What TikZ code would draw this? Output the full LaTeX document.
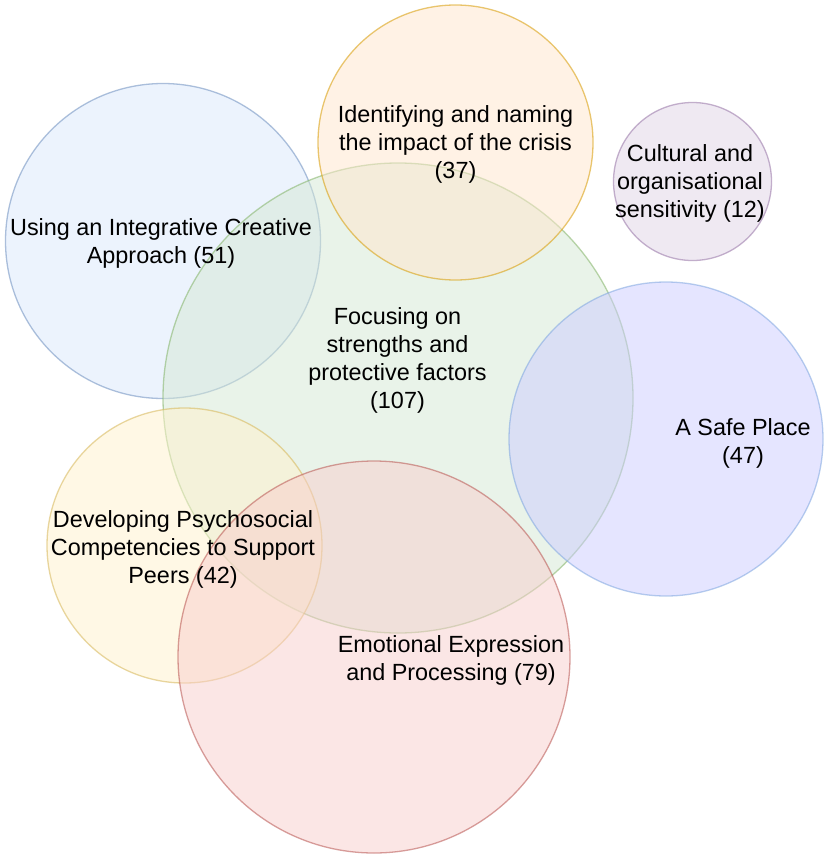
\documentclass[tikz,border=0pt]{standalone}
\usepackage{fontspec}
\setmainfont{Liberation Sans}
\definecolor{bluefill}{HTML}{DAE8FC}\definecolor{bluedraw}{HTML}{6C8EBF}
\definecolor{greenfill}{HTML}{D5E8D4}\definecolor{greendraw}{HTML}{82B366}
\definecolor{orangefill}{HTML}{FFE6CC}\definecolor{orangedraw}{HTML}{D79B00}
\definecolor{purplefill}{HTML}{E1D5E7}\definecolor{purpledraw}{HTML}{9673A6}
\definecolor{lavfill}{HTML}{CCCCFF}\definecolor{lavdraw}{HTML}{7EA6E0}
\definecolor{yellowfill}{HTML}{FFF2CC}\definecolor{yellowdraw}{HTML}{D6B656}
\definecolor{redfill}{HTML}{F8CECC}\definecolor{reddraw}{HTML}{B85450}
\tikzset{
  venn/.style={circle, inner sep=0pt, line width=1.3pt, fill opacity=0.5, draw opacity=0.55},
  lbl/.style={align=center, inner sep=0pt, font=\fontsize{23.4}{28}\selectfont, text=black}
}
\begin{document}
\begin{tikzpicture}[x=1pt,y=-1pt]
\useasboundingbox (0,0) rectangle (829,859);
\fill[white] (0,0) rectangle (829,859);
% circles
\node[venn, fill=bluefill, draw=bluedraw, minimum size=315pt] (cblue) at (163,241) {};
\node[venn, fill=greenfill, draw=greendraw, minimum size=470pt] (cgreen) at (398,398) {};
\node[venn, fill=orangefill, draw=orangedraw, minimum size=275pt] (corange) at (455.5,142.5) {};
\node[venn, fill=purplefill, draw=purpledraw, minimum size=158pt] (cpurple) at (692.5,181.5) {};
\node[venn, fill=lavfill, draw=lavdraw, minimum size=314pt] (clav) at (666,439) {};
\node[venn, fill=yellowfill, draw=yellowdraw, minimum size=275pt] (cyellow) at (184.5,545.5) {};
\node[venn, fill=redfill, draw=reddraw, minimum size=392pt] (cred) at (374,657) {};
% labels
\node[lbl] (tblue) at (161,243.5) {Using an Integrative Creative\\Approach (51)};
\node[lbl] (torange) at (455.5,144.5) {Identifying and naming\\the impact of the crisis\\(37)};
\node[lbl] (tpurple) at (690,183.5) {Cultural and\\organisational\\sensitivity (12)};
\node[lbl] (tgreen) at (397.5,360) {Focusing on\\strengths and\\protective factors\\(107)};
\node[lbl] (tlav) at (743,443) {A Safe Place\\(47)};
\node[lbl] (tyellow) at (183,549.5) {Developing Psychosocial\\Competencies to Support\\Peers (42)};
\node[lbl] (tred) at (451,660.5) {Emotional Expression\\and Processing (79)};
\end{tikzpicture}
\end{document}
